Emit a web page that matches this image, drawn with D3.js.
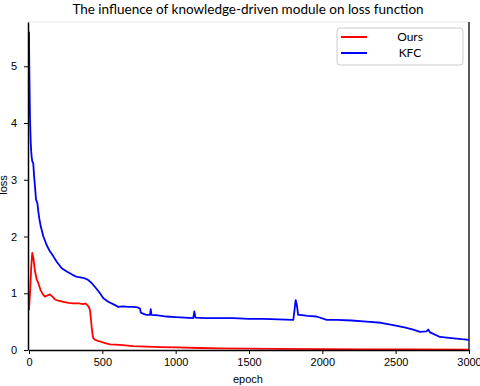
<!DOCTYPE html>
<html>
<head>
<meta charset="utf-8">
<script src="https://cdn.jsdelivr.net/npm/d3@7"></script>
<style>
  body { margin: 0; background: #fff; }
</style>
</head>
<body>
<div id="chart"></div>
<script>
var w = 480,
    h = 386;

var margin = { top: 22, right: 11, bottom: 36, left: 28 };

// values (epoch, loss)
var oursEpoch = [0, 8, 15, 22, 30, 40, 52, 63, 80, 95, 109, 125, 143, 160, 177, 200, 234, 270, 300, 340, 370, 385, 398, 408, 416, 422, 427, 433, 438, 450, 470, 484, 520, 552, 620, 711, 800, 900, 1000, 1166, 1300, 1500, 1700, 2000, 2300, 2600, 3000];
var oursLoss  = [0.70, 1.05, 1.45, 1.71, 1.62, 1.40, 1.25, 1.18, 1.05, 0.98, 0.94, 0.96, 0.98, 0.94, 0.89, 0.87, 0.85, 0.83, 0.82, 0.82, 0.81, 0.82, 0.79, 0.76, 0.70, 0.55, 0.41, 0.28, 0.21, 0.18, 0.16, 0.15, 0.12, 0.10, 0.09, 0.07, 0.06, 0.05, 0.045, 0.035, 0.03, 0.025, 0.02, 0.015, 0.012, 0.01, 0.008];

var kfcEpoch = [0, 2, 5, 7, 10, 12, 15, 18, 22, 29, 35, 41, 48, 57, 63, 70, 80, 98, 110, 120, 140, 166, 190, 223, 260, 300, 325, 350, 382, 400, 427, 460, 484, 507, 540, 580, 609, 640, 680, 711, 740, 757, 762, 768, 800, 825, 830, 835, 880, 938, 1000, 1060, 1120, 1127, 1135, 1200, 1300, 1393, 1500, 1600, 1700, 1802, 1810, 1818, 1826, 1835, 1848, 1900, 1960, 2030, 2100, 2200, 2302, 2400, 2483, 2560, 2620, 2666, 2710, 2722, 2735, 2802, 2880, 2950, 3000];
var kfcLoss  = [5.61, 5.00, 4.40, 4.06, 3.80, 3.65, 3.50, 3.41, 3.33, 3.29, 3.05, 2.88, 2.65, 2.59, 2.45, 2.32, 2.18, 2.00, 1.92, 1.85, 1.75, 1.65, 1.55, 1.44, 1.38, 1.32, 1.29, 1.28, 1.26, 1.24, 1.18, 1.08, 1.00, 0.91, 0.85, 0.80, 0.76, 0.77, 0.76, 0.76, 0.75, 0.73, 0.66, 0.65, 0.62, 0.62, 0.72, 0.62, 0.61, 0.59, 0.58, 0.57, 0.56, 0.68, 0.57, 0.56, 0.56, 0.56, 0.55, 0.55, 0.54, 0.53, 0.70, 0.88, 0.80, 0.62, 0.62, 0.60, 0.59, 0.53, 0.53, 0.52, 0.50, 0.48, 0.44, 0.40, 0.36, 0.32, 0.33, 0.36, 0.31, 0.23, 0.21, 0.19, 0.18];

var xTicks = [0, 500, 1000, 1500, 2000, 2500, 3000];
var yTicks = [0, 1, 2, 3, 4, 5];

var series = [
    { name: "Ours", color: "#ff0000", x: oursEpoch, y: oursLoss },
    { name: "KFC",  color: "#0000ff", x: kfcEpoch,  y: kfcLoss }
];

var svg = d3.select('#chart')
    .append('svg')
    .attr('width', w)
    .attr('height', h)

var x = d3.scaleLinear()
    .domain([0, 3000])
    .range([margin.left + 1, w - margin.right])

var y = d3.scaleLinear()
    .domain([0, 5.78])
    .range([h - margin.bottom, margin.top])

// top border, light
svg.append('line')
    .attr('x1', margin.left).attr('x2', w - margin.right)
    .attr('y1', margin.top).attr('y2', margin.top)
    .attr('stroke', '#eeeeee')
    .attr('stroke-width', 1.5)

// right spine
svg.append('line')
    .attr('x1', w - margin.right).attr('x2', w - margin.right)
    .attr('y1', margin.top).attr('y2', h - margin.bottom)
    .attr('stroke', '#000')
    .attr('stroke-width', 1.3)

var line = d3.line()
    .x(function(d) { return x(d[0]) })
    .y(function(d) { return y(d[1]) })

series.forEach(function(s) {
    var pts = s.x.map(function(v, i) { return [v, s.y[i]] })
    svg.append('path')
        .datum(pts)
        .attr('d', line)
        .attr('fill', 'none')
        .attr('stroke', s.color)
        .attr('stroke-width', 1.8)
        .attr('stroke-linejoin', 'round')
})

var xAxis = svg.append('g')
    .attr('transform', 'translate(0,' + (h - margin.bottom) + ')')
    .call(d3.axisBottom(x).tickValues(xTicks).tickFormat(d3.format('d'))
        .tickSize(4).tickPadding(4).tickSizeOuter(0))

var yAxis = svg.append('g')
    .attr('transform', 'translate(' + margin.left + ',0)')
    .call(d3.axisLeft(y).tickValues(yTicks).tickFormat(d3.format('d'))
        .tickSize(4).tickPadding(7).tickSizeOuter(0))

svg.selectAll('.domain').attr('stroke', '#000').attr('stroke-width', 1.5)
svg.selectAll('.tick line').attr('stroke', '#000')
svg.selectAll('.tick text')
    .attr('font-size', 11)
    .attr('font-family', '"Liberation Sans", Arial, sans-serif')
    .attr('fill', '#000')

svg.append('text')
    .text('The influence of knowledge-driven module on loss function')
    .attr('x', 248)
    .attr('y', 14)
    .attr('text-anchor', 'middle')
    .attr('font-size', 13.5)
    .attr('font-family', 'Lato, sans-serif')
    .attr('fill', '#000')

svg.append('text')
    .text('epoch')
    .attr('x', 248)
    .attr('y', 383)
    .attr('text-anchor', 'middle')
    .attr('font-size', 11)
    .attr('font-family', '"Liberation Sans", Arial, sans-serif')
    .attr('fill', '#000')

svg.append('text')
    .text('loss')
    .attr('transform', 'translate(7,185) rotate(-90)')
    .attr('text-anchor', 'middle')
    .attr('font-size', 11)
    .attr('font-family', '"Liberation Sans", Arial, sans-serif')
    .attr('fill', '#000')

// legend
var legend = svg.append('g')

legend.append('rect')
    .attr('x', 337).attr('y', 28)
    .attr('width', 126).attr('height', 37)
    .attr('rx', 3)
    .attr('fill', '#fff')
    .attr('stroke', '#cccccc')

series.forEach(function(s, i) {
    var ly = 37 + i * 16
    legend.append('line')
        .attr('x1', 341).attr('x2', 367)
        .attr('y1', ly).attr('y2', ly)
        .attr('stroke', s.color)
        .attr('stroke-width', 2)
    legend.append('text')
        .text(s.name)
        .attr('x', 410)
        .attr('y', ly + 4)
        .attr('text-anchor', 'middle')
        .attr('font-size', 12)
        .attr('font-family', 'Lato, sans-serif')
        .attr('fill', '#000')
})
</script>
</body>
</html>
